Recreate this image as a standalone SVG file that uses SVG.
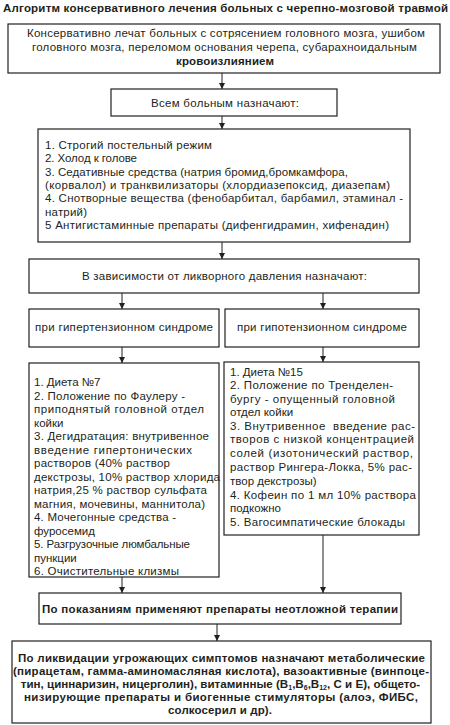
<svg xmlns="http://www.w3.org/2000/svg" width="450" height="725" viewBox="0 0 450 725">
<style>
.bx{fill:#fff;stroke:#231f20;stroke-width:1.2}
text{font-family:"Liberation Sans",Arial,sans-serif;fill:#231f20;font-size:11.5px}
.c{text-anchor:middle}
.bd{font-weight:bold}
.ln{stroke:#231f20;stroke-width:1;fill:none}
</style>
<defs>
<marker id="ah" viewBox="0 0 10 10" refX="10" refY="5" markerWidth="7" markerHeight="6" markerUnits="userSpaceOnUse" orient="auto">
<path d="M0,0 L10,5 L0,10 z" fill="#231f20"/>
</marker>
</defs>
<text id="title" x="3" y="12" class="bd" textLength="445">Алгоритм консервативного лечения больных с черепно-мозговой травмой</text>
<g id="connectors">
<line class="ln" x1="222" y1="73" x2="222" y2="89" marker-end="url(#ah)"/>
<line class="ln" x1="222" y1="116" x2="222" y2="129" marker-end="url(#ah)"/>
<line class="ln" x1="222" y1="242" x2="222" y2="259" marker-end="url(#ah)"/>
<line class="ln" x1="122" y1="293" x2="122" y2="309" marker-end="url(#ah)"/>
<line class="ln" x1="323" y1="293" x2="323" y2="309" marker-end="url(#ah)"/>
<line class="ln" x1="122" y1="347" x2="122" y2="363" marker-end="url(#ah)"/>
<line class="ln" x1="323" y1="347" x2="323" y2="362" marker-end="url(#ah)"/>
<line class="ln" x1="122" y1="577" x2="122" y2="593" marker-end="url(#ah)"/>
<line class="ln" x1="323" y1="535" x2="323" y2="593" marker-end="url(#ah)"/>
<line class="ln" x1="217" y1="624" x2="217" y2="641" marker-end="url(#ah)"/>
</g>
<g id="n1">
<rect class="bx" x="8" y="24" width="432" height="49"/>
<text class="c" x="226" y="37" textLength="398">Консервативно лечат больных с сотрясением головного мозга, ушибом</text>
<text class="c" x="224.5" y="51" textLength="385">головного мозга, переломом основания черепа, субарахноидальным</text>
<text class="c bd" x="225" y="65" textLength="98">кровоизлиянием</text>
</g>
<g id="n2">
<rect class="bx" x="111" y="89" width="226" height="27"/>
<text class="c" x="225" y="107" textLength="148">Всем больным назначают:</text>
</g>
<g id="n3">
<rect class="bx" x="38" y="129" width="372" height="113"/>
<text x="45" y="149" textLength="167">1. Строгий постельный режим</text>
<text x="45" y="162" textLength="92">2. Холод к голове</text>
<text x="45" y="175.5" textLength="303">3. Седативные средства (натрия бромид,бромкамфора,</text>
<text x="45" y="188.5" textLength="345">(корвалол) и транквилизаторы (хлордиазепоксид, диазепам)</text>
<text x="45" y="202" textLength="358">4. Снотворные вещества (фенобарбитал, барбамил, этаминал -</text>
<text x="45" y="215.5" textLength="42">натрий)</text>
<text x="45" y="229" textLength="344">5 Антигистаминные препараты (дифенгидрамин, хифенадин)</text>
</g>
<g id="n4">
<rect class="bx" x="29" y="259" width="390" height="34"/>
<text class="c" x="224.5" y="280" textLength="285">В зависимости от ликворного давления назначают:</text>
</g>
<g id="n5a">
<rect class="bx" x="29" y="309" width="190" height="38"/>
<text class="c" x="124" y="331" textLength="178">при гипертензионном синдроме</text>
</g>
<g id="n5b">
<rect class="bx" x="225" y="309" width="194" height="38"/>
<text class="c" x="322" y="331" textLength="170">при гипотензионном синдроме</text>
</g>
<g id="n6a">
<rect class="bx" x="29" y="363" width="190" height="214"/>
<text x="34" y="386">1. Диета №7</text>
<text x="34" y="399.5" textLength="151">2. Положение по Фаулеру -</text>
<text x="34" y="413" textLength="170">приподнятый головной отдел</text>
<text x="34" y="426.5">койки</text>
<text x="34" y="440" textLength="175">3. Дегидратация: внутривенное</text>
<text x="34" y="453.5" textLength="158">введение гипертонических</text>
<text x="34" y="467" textLength="136">растворов (40% раствор</text>
<text x="34" y="480.5" textLength="186">декстрозы, 10% раствор хлорида</text>
<text x="34" y="494" textLength="173">натрия,25 % раствор сульфата</text>
<text x="34" y="507.5" textLength="171">магния, мочевины, маннитола)</text>
<text x="34" y="521" textLength="142">4. Мочегонные средства -</text>
<text x="34" y="534.5">фуросемид</text>
<text x="34" y="548" textLength="156">5. Разгрузочные люмбальные</text>
<text x="34" y="561.5">пункции</text>
<text x="34" y="575" textLength="145">6. Очистительные клизмы</text>
</g>
<g id="n6b">
<rect class="bx" x="224" y="362" width="195" height="173"/>
<text x="230" y="375.5">1. Диета №15</text>
<text x="230" y="389" textLength="163">2. Положение по Тренделен-</text>
<text x="230" y="402.5" textLength="165">бургу - опущенный головной</text>
<text x="230" y="416">отдел койки</text>
<text x="230" y="429.5" textLength="185" xml:space="preserve">3. Внутривенное  введение рас-</text>
<text x="230" y="443" textLength="184">творов с низкой концентрацией</text>
<text x="230" y="456.5" textLength="183">солей (изотонический раствор,</text>
<text x="230" y="470.5" textLength="182">раствор Рингера-Локка, 5% рас-</text>
<text x="230" y="484.5">твор декстрозы)</text>
<text x="230" y="498.5" textLength="186">4. Кофеин по 1 мл 10% раствора</text>
<text x="230" y="512">подкожно</text>
<text x="230" y="526" textLength="175">5. Вагосимпатические блокады</text>
</g>
<g id="n7">
<rect class="bx" x="39" y="593" width="362" height="31"/>
<text class="c bd" x="220" y="613" textLength="356">По показаниям применяют препараты неотложной терапии</text>
</g>
<g id="n8">
<rect class="bx" x="12" y="641" width="419" height="82"/>
<text class="c bd" x="221.5" y="662" textLength="407">По ликвидации угрожающих симптомов назначают метаболические</text>
<text class="c bd" x="221" y="675" textLength="416">(пирацетам, гамма-аминомасляная кислота), вазоактивные (винпоце-</text>
<text class="c bd" x="220.5" y="688" style="font-size:11.6px">тин, циннаризин, ницерголин), витаминные (В<tspan font-size="7" dy="2">1</tspan><tspan dy="-2">,В</tspan><tspan font-size="7" dy="2">6</tspan><tspan dy="-2">,В</tspan><tspan font-size="7" dy="2">12</tspan><tspan dy="-2">, С и Е), общето-</tspan></text>
<text class="c bd" x="221" y="701" textLength="394">низирующие препараты и биогенные стимуляторы (алоэ, ФИБС,</text>
<text class="c bd" x="220" y="714" textLength="104">солкосерил и др).</text>
</g>
</svg>
